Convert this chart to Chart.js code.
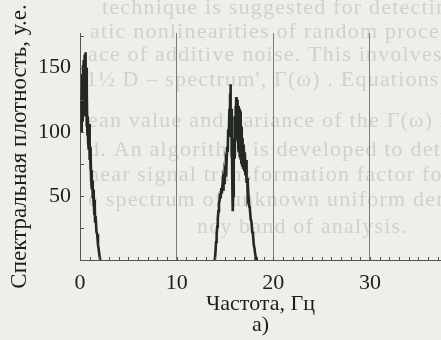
<!DOCTYPE html>
<html>
<head>
<meta charset="utf-8">
<script src="https://cdn.jsdelivr.net/npm/chart.js@4.4.1/dist/chart.umd.min.js"></script>
<style>
  html, body { margin: 0; padding: 0; background: #eeeeeb; }
  #wrap { width: 441px; height: 340px; position: relative; }
</style>
</head>
<body>
<div id="wrap"><canvas id="chart"></canvas></div>
<script>
/* Spectral density plot, scanned figure "а)" */

// first band (0 .. 2 Hz), noisy so the trace zigzags
const peak1Freq = [0.12, 0.16, 0.20, 0.24, 0.28, 0.32, 0.36, 0.40, 0.44, 0.48, 0.52, 0.56, 0.60, 0.64, 0.68,
  0.72, 0.76, 0.80, 0.84, 0.88, 0.92, 0.96, 1.00, 1.04, 1.08, 1.12, 1.16, 1.20, 1.24, 1.28, 1.32, 1.36, 1.40,
  1.44, 1.48, 1.52, 1.56, 1.62, 1.70, 1.78, 1.86, 1.94, 2.02, 2.10];
const peak1Val = [100, 128, 105, 145, 108, 152, 112, 156, 115, 160, 120, 162, 112, 150, 104,
  132, 98, 112, 92, 100, 86, 106, 78, 88, 70, 80, 62, 70, 55, 62, 48, 55, 42,
  48, 36, 47, 30, 34, 22, 20, 12, 8, 3, 0];

// second band (14 .. 18 Hz)
const peak2Freq = [13.95, 14.02, 14.08, 14.14, 14.20, 14.26, 14.32, 14.38, 14.44, 14.50, 14.56, 14.62, 14.68,
  14.74, 14.80, 14.86, 14.92, 14.98, 15.04, 15.10, 15.16, 15.22, 15.28, 15.34, 15.40, 15.46, 15.50, 15.54,
  15.57, 15.61, 15.65, 15.69, 15.73, 15.77, 15.81, 15.85, 15.89, 15.93, 15.97, 16.01, 16.05, 16.09, 16.13,
  16.17, 16.21, 16.25, 16.29, 16.33, 16.37, 16.41, 16.45, 16.49, 16.53, 16.57, 16.61, 16.65, 16.69, 16.73,
  16.78, 16.83, 16.88, 16.94, 17.00, 17.06, 17.12, 17.18, 17.24, 17.30, 17.36, 17.42, 17.50, 17.58, 17.66,
  17.74, 17.82, 17.90, 17.98, 18.06, 18.14, 18.22, 18.28];
const peak2Val = [0, 6, 14, 20, 26, 32, 38, 44, 46, 52, 48, 56, 52,
  58, 55, 62, 60, 68, 66, 76, 74, 88, 84, 102, 96, 118, 100, 130,
  137, 96, 118, 80, 100, 55, 38, 50, 70, 95, 80, 112, 95, 120, 100,
  127, 96, 125, 92, 122, 88, 120, 84, 118, 80, 116, 78, 112, 76, 104,
  74, 95, 72, 90, 70, 84, 66, 78, 60, 64, 50, 52, 42, 40, 32,
  30, 22, 20, 12, 9, 4, 2, 0];

const xTicks = [0, 10, 20, 30];
const yTicks = [50, 100, 150];

// faint text showing through the scanned page
const showThrough = [
  'technique is suggested for detecting weak',
  'atic nonlinearities of random processes in the',
  'ace of additive noise. This involves calculation',
  '1\u00BD D \u2013 spectrum\', \u0393(\u03C9) . Equations to estimate',
  'ean value and variance of the \u0393(\u03C9) have been',
  'd. An algorithm is developed to determine the',
  'near signal transformation factor for the case of',
  'e spectrum of unknown uniform density in the',
  'ncy band of analysis.',
];
const showThroughPos = [[102, 8], [90, 32], [88, 55], [86, 80], [88, 121], [88, 150], [88, 175], [88, 200], [197, 227]];

const SERIF = '"Liberation Serif", "DejaVu Serif", serif';
const INK = '#1e1e1e';

const toPoints = (xs, ys) => xs.map((x, i) => ({ x, y: ys[i] }));

const paperPlugin = {
  id: 'paper',
  beforeDraw(chart) {
    const { ctx } = chart;
    ctx.save();
    ctx.fillStyle = '#eeeeeb';
    ctx.fillRect(0, 0, chart.width, chart.height);
    ctx.font = '22px ' + SERIF;
    ctx.letterSpacing = '1.2px';
    ctx.fillStyle = '#d0d0cc';
    ctx.textBaseline = 'middle';
    showThrough.forEach((t, i) => ctx.fillText(t, showThroughPos[i][0], showThroughPos[i][1]));
    ctx.restore();
  },
};

// small inward ticks: every 1 Hz on x, every 25 on y
const minorTicks = {
  id: 'minorTicks',
  afterDatasetsDraw(chart) {
    const { ctx, chartArea, scales: { x, y } } = chart;
    ctx.save();
    ctx.strokeStyle = '#555';
    ctx.lineWidth = 1;
    ctx.beginPath();
    for (let v = 1; v < x.max; v++) {
      const px = Math.round(x.getPixelForValue(v)) + 0.5;
      ctx.moveTo(px, chartArea.bottom);
      ctx.lineTo(px, chartArea.bottom - 3);
    }
    for (let v = 25; v < y.max; v += 25) {
      const py = Math.round(y.getPixelForValue(v)) + 0.5;
      ctx.moveTo(chartArea.left, py);
      ctx.lineTo(chartArea.left + 4, py);
    }
    ctx.stroke();
    ctx.restore();
  },
};

const lineStyle = {
  borderColor: '#232823',
  borderWidth: 2.6,
  pointRadius: 0,
  tension: 0,
  fill: false,
};

new Chart(document.getElementById('chart').getContext('2d'), {
  type: 'line',
  data: {
    datasets: [
      { label: 'band 1', data: toPoints(peak1Freq, peak1Val), ...lineStyle },
      { label: 'band 2', data: toPoints(peak2Freq, peak2Val), ...lineStyle },
    ],
  },
  options: {
    responsive: true,
    maintainAspectRatio: false,
    animation: false,
    layout: { padding: { top: 33, right: 0, bottom: 0, left: 0 } },
    plugins: {
      legend: { display: false },
      tooltip: { enabled: false },
    },
    scales: {
      x: {
        type: 'linear',
        min: 0,
        max: 37.36,
        afterBuildTicks: s => { s.ticks = xTicks.map(value => ({ value })); },
        afterFit: s => { s.height = 80; },
        border: { display: true, color: '#555', width: 1 },
        grid: {
          drawTicks: false,
          color: c => (c.tick && c.tick.value > 0) ? '#7a7a7a' : 'rgba(0,0,0,0)',
          lineWidth: 1,
        },
        ticks: {
          autoSkip: false,
          padding: 10,
          maxRotation: 0,
          color: INK,
          font: { family: SERIF, size: 22 },
        },
        title: {
          display: true,
          text: ['Частота, Гц', 'а)'],
          color: INK,
          font: { family: SERIF, size: 22, lineHeight: 0.95 },
          padding: { top: 0, bottom: 4 },
        },
      },
      y: {
        min: 0,
        max: 177,
        afterBuildTicks: s => { s.ticks = yTicks.map(value => ({ value })); },
        afterFit: s => { s.width = 80; },
        border: { display: true, color: '#555', width: 1 },
        grid: { display: false, drawTicks: false },
        ticks: {
          autoSkip: false,
          padding: 9,
          color: INK,
          font: { family: SERIF, size: 22 },
        },
        title: {
          display: true,
          text: 'Спектральная плотность, у.е.',
          color: INK,
          font: { family: SERIF, size: 23, lineHeight: 1.2 },
          padding: { top: 6, bottom: 0 },
        },
      },
    },
  },
  plugins: [paperPlugin, minorTicks],
});
</script>
</body>
</html>
